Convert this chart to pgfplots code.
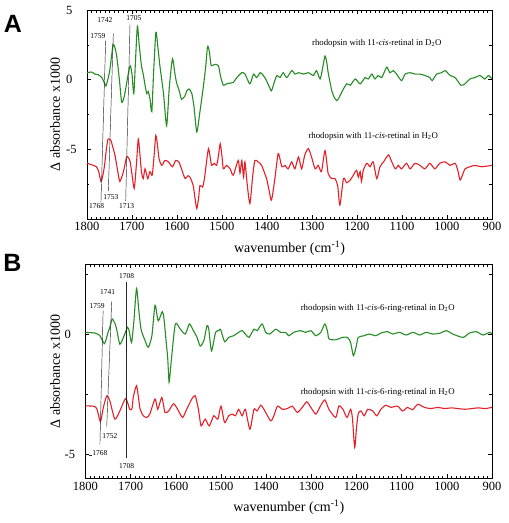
\documentclass[border=0pt]{standalone}
\usepackage{fontspec}
\setmainfont{Liberation Serif}
\newfontfamily\arialfont{Liberation Sans}
\usepackage{pgfplots}
\pgfplotsset{compat=1.18}
\definecolor{specgreen}{RGB}{38,140,36}
\definecolor{specred}{RGB}{228,32,40}
\pgfplotsset{
 spec/.style={
  scale only axis, x dir=reverse, xmin=900, xmax=1800,
  xtick={900,1000,...,1800}, minor x tick num=9,
  xticklabels={900,1000,1100,1200,1300,1400,1500,1600,1700,1800},
  tick align=inside, xtick pos=both, ytick pos=both,
  xticklabel pos=lower, yticklabel pos=left,
  major tick length=4pt, minor tick length=2.5pt,
  every tick/.style={black, line width=0.4pt},
  axis line style={line width=0.6pt},
  tick label style={font=\fontsize{12.5}{14}\selectfont},
  /pgf/number format/assume math mode=true,
  /pgf/number format/1000 sep={},
  yticklabel style={anchor=west, xshift=-21pt, inner sep=0pt},
  every axis x label/.style={at={(axis description cs:0.5,0)}, yshift=-29pt, anchor=center, font=\fontsize{14}{16}\selectfont},
  every axis plot/.append style={line width=1.1pt, smooth, tension=0.4, mark=none},
  xlabel={wavenumber (cm\textsuperscript{-1})},
  ylabel={Δ absorbance x1000},
 }
}
\newcommand{\sm}{\fontsize{7.5}{8}\selectfont}
\newcommand{\mdl}{\fontsize{8.8}{10}\selectfont}
\begin{document}
\begin{tikzpicture}[x=1pt,y=1pt]
\useasboundingbox (0,0) rectangle (509,-523);
\node[font=\arialfont\bfseries\fontsize{25}{28}\selectfont, inner sep=0] at (13,-23.5) {A};
\node[font=\arialfont\bfseries\fontsize{25}{28}\selectfont, inner sep=0] at (12.5,-262.5) {B};
\begin{axis}[spec, at={(87pt,-10pt)}, anchor=north west, width=405pt, height=209pt,
  ymin=-10, ymax=5, ytick={-5,0,5}, yticklabels={-5,0,5}, minor ytick={-7.5,-2.5,2.5},
  every axis y label/.style={at={(axis description cs:0,0.5)}, xshift=-32pt, rotate=90, anchor=center, font=\fontsize{14}{16}\selectfont}]
\addplot[specgreen] coordinates {
(1800,0.5)(1790,0.55)(1782,0.4)(1775,0.35)(1767,0.15)(1762,-0.2)(1758,-0.45)(1753,0.1)(1749,0.75)(1745,1.8)
(1742,2.55)(1738,2.3)(1734,1.7)(1728,0.0)(1723,-1.6)(1718,-1.3)(1714,-0.65)(1709,0.3)(1704,1.0)(1700,0.4)
(1696,-1.0)(1692,1.5)(1688,3.85)(1684,2.5)(1679,1.0)(1675,0.4)(1671,-0.4)(1667,-1.0)(1664,-0.85)(1660,-1.4)
(1656,-2.3)(1652,0.5)(1647,3.4)(1643,2.5)(1638,1.0)(1630,-1.0)(1623,-3.3)(1617,-0.5)(1610,1.5)(1605,0.5)
(1601,-0.2)(1595,-0.8)(1590,-1.4)(1583,-1.2)(1578,-0.8)(1573,-0.67)(1567,-1.0)(1562,-2.0)(1556,-3.75)(1549,-2.3)
(1541,-0.4)(1536,1.0)(1532,2.4)(1528,2.0)(1524,1.0)(1517,1.1)(1508,1.0)(1503,0.2)(1497,-0.4)(1490,-0.3)
(1482,-0.25)(1475,-0.2)(1467,0.15)(1456,0.5)(1449,0.4)(1438,-0.3)(1430,0.4)(1423,0.15)(1415,0.5)(1408,0.3)
(1401,-0.07)(1395,-0.5)(1390,-0.8)(1384,-0.2)(1378,0.3)(1371,0.15)(1364,0.5)(1356,0.15)(1345,0.65)(1338,0.4)
(1330,0.5)(1319,0.4)(1308,0.5)(1297,0.3)(1290,0.65)(1282,0.05)(1276,0.9)(1271,1.7)(1267,1.2)(1264,0.5)
(1256,-0.8)(1250,-1.3)(1245,-1.5)(1240,-1.3)(1234,-0.9)(1223,-0.3)(1215,-0.4)(1204,0.05)(1193,-0.3)(1182,0.15)
(1175,0.05)(1167,0.4)(1160,0.05)(1153,0.3)(1145,0.15)(1134,0.9)(1127,0.5)(1119,0.65)(1112,0.4)(1101,-0.07)
(1093,0.4)(1082,0.5)(1071,0.4)(1060,0.4)(1049,0.3)(1038,0.15)(1033,-0.07)(1023,0.4)(1012,0.5)(1004,0.65)
(993,0.3)(982,0.15)(969,-0.4)(960,-0.3)(949,0.05)(938,0.15)(927,0.3)(916,0.05)(908,0.3)(900,0.05)
};
\addplot[specred] coordinates {
(1800,-6.0)(1790,-6.1)(1779,-6.25)(1774,-6.6)(1769,-7.3)(1765,-6.9)(1761,-6.15)(1757,-5.0)(1753,-4.25)(1747,-4.35)
(1743,-4.8)(1738,-5.4)(1732,-6.5)(1727,-7.3)(1719,-6.6)(1712,-5.55)(1708,-5.6)(1704,-5.9)(1700,-6.8)(1695,-7.8)
(1690,-6.0)(1686,-4.25)(1682,-5.5)(1679,-6.6)(1675,-7.1)(1671,-6.4)(1665,-7.1)(1660,-6.6)(1655,-6.85)(1651,-5.5)
(1647,-4.0)(1643,-4.8)(1640,-5.65)(1634,-6.15)(1627,-5.8)(1619,-5.9)(1610,-6.25)(1603,-5.8)(1596,-5.9)(1590,-6.4)
(1582,-7.1)(1576,-6.9)(1571,-7.0)(1564,-7.6)(1560,-8.5)(1556,-9.25)(1552,-8.5)(1549,-7.6)(1543,-7.7)(1539,-7.1)
(1534,-5.8)(1530,-4.95)(1526,-5.6)(1523,-6.15)(1517,-6.0)(1512,-6.15)(1508,-5.5)(1504,-4.6)(1500,-5.5)(1497,-6.4)
(1490,-6.15)(1482,-6.4)(1475,-6.85)(1464,-5.8)(1460,-6.7)(1456,-5.8)(1452,-7.0)(1449,-5.9)(1444,-7.5)(1438,-8.9)
(1432,-7.0)(1427,-5.8)(1420,-5.9)(1412,-6.15)(1401,-7.1)(1395,-8.0)(1390,-8.65)(1382,-7.0)(1375,-5.3)(1367,-6.25)
(1360,-6.15)(1353,-6.4)(1345,-5.9)(1338,-6.4)(1330,-5.55)(1323,-6.4)(1316,-5.4)(1308,-4.95)(1301,-5.55)(1293,-6.4)
(1286,-6.15)(1279,-6.6)(1271,-5.1)(1264,-6.75)(1256,-7.1)(1249,-7.1)(1243,-7.6)(1238,-9.0)(1230,-7.1)(1223,-7.4)
(1215,-7.2)(1208,-6.85)(1201,-6.5)(1197,-7.0)(1193,-6.6)(1190,-7.3)(1186,-6.5)(1178,-6.0)(1171,-6.25)(1164,-5.9)
(1156,-7.1)(1149,-6.25)(1141,-5.9)(1130,-5.4)(1124,-5.8)(1115,-6.4)(1108,-6.15)(1101,-6.4)(1090,-6.0)(1082,-6.4)
(1071,-6.0)(1060,-6.15)(1049,-6.4)(1038,-6.0)(1027,-6.4)(1016,-6.0)(1004,-5.9)(993,-6.15)(982,-6.0)(976,-6.5)
(971,-7.2)(965,-6.8)(960,-6.4)(949,-6.25)(938,-6.15)(923,-6.25)(900,-6.15)
};
\draw[black!85, line width=0.45pt] (axis cs:1758.5,2.8) -- (axis cs:1769,-8.8);
\draw[black!85, line width=0.45pt] (axis cs:1741.5,3.3) -- (axis cs:1752.6,-8.0);
\draw[black!85, line width=0.45pt] (axis cs:1704.4,4.0) -- (axis cs:1714,-8.7);
\node[font=\sm, inner sep=0] at (axis cs:1776,3.1) {1759};
\node[font=\sm, inner sep=0] at (axis cs:1760,4.3) {1742};
\node[font=\sm, inner sep=0] at (axis cs:1696,4.4) {1705};
\node[font=\sm, inner sep=0] at (axis cs:1778.5,-9.1) {1768};
\node[font=\sm, inner sep=0] at (axis cs:1747,-8.4) {1753};
\node[font=\sm, inner sep=0] at (axis cs:1712,-9.1) {1713};
\node[font=\mdl] at (axis cs:1156,2.64) {rhodopsin with 11-\textit{cis}-retinal in D\textsubscript{2}O};
\node[font=\mdl] at (axis cs:1164,-4.07) {rhodopsin with 11-\textit{cis}-retinal in H\textsubscript{2}O};
\end{axis}
\begin{axis}[spec, at={(85.5pt,-264.3pt)}, anchor=north west, width=406.5pt, height=214pt,
  ymin=-6, ymax=2.9, ytick={-5,0}, yticklabels={-5,0}, minor ytick={-2.5,2.5},
  every axis y label/.style={at={(axis description cs:0,0.5)}, xshift=-30.5pt, rotate=90, anchor=center, font=\fontsize{14}{16}\selectfont}]
\addplot[specgreen] coordinates {
(1800,0.07)(1779,0.04)(1768,-0.07)(1758,-0.4)(1750,0.07)(1745,0.35)(1741,0.63)(1735,0.45)(1731,0.2)(1724,-0.42)
(1716,-0.14)(1707,0.28)(1703,0.1)(1698,-0.35)(1693,0.5)(1687,1.9)(1682,1.0)(1677,0.2)(1668,-0.28)(1661,-0.55)
(1653,-0.07)(1646,1.2)(1639,0.55)(1630,0.93)(1626,0.6)(1622,-0.2)(1618,-1.0)(1615,-2.0)(1612,-1.5)(1609,-0.9)
(1601,0.42)(1590,0.2)(1579,0.0)(1570,0.42)(1561,0.14)(1553,-0.14)(1546,-0.5)(1538,-0.28)(1531,0.35)(1527,0.2)
(1521,-0.7)(1512,0.07)(1505,0.14)(1501,0.2)(1492,-0.32)(1483,-0.14)(1472,-0.07)(1461,0.07)(1453,0.14)(1446,0.0)
(1438,-0.14)(1427,0.2)(1420,0.14)(1409,0.42)(1401,0.07)(1392,0.0)(1379,0.2)(1368,0.07)(1357,0.07)(1350,-0.07)
(1339,0.07)(1324,0.14)(1313,0.07)(1301,0.14)(1290,-0.07)(1279,0.07)(1270,0.42)(1264,0.1)(1261,-0.2)(1246,-0.24)
(1231,-0.14)(1220,-0.14)(1213,-0.35)(1207,-0.9)(1201,-0.55)(1196,-0.14)(1183,-0.07)(1172,0.0)(1157,-0.07)(1146,0.04)
(1131,0.1)(1120,0.0)(1105,0.07)(1090,-0.04)(1075,0.07)(1060,-0.04)(1046,0.07)(1031,0.0)(1016,0.03)(1001,0.14)
(987,0.0)(964,-0.14)(950,0.04)(935,0.1)(920,-0.04)(905,0.07)(900,0.0)
};
\addplot[specred] coordinates {
(1800,-2.99)(1783,-3.0)(1775,-3.1)(1767,-3.65)(1761,-3.1)(1753,-2.57)(1746,-2.78)(1735,-3.54)(1724,-3.2)(1711,-2.68)
(1702,-3.13)(1697,-3.1)(1694,-2.6)(1687,-2.15)(1683,-2.6)(1679,-3.13)(1672,-3.4)(1664,-3.47)(1657,-3.3)(1646,-2.7)
(1640,-3.13)(1631,-2.64)(1624,-3.26)(1616,-3.2)(1605,-2.9)(1596,-3.13)(1585,-3.47)(1576,-3.13)(1564,-2.68)(1557,-2.57)
(1550,-3.13)(1544,-3.82)(1535,-3.54)(1526,-3.82)(1516,-3.4)(1507,-3.54)(1500,-3.0)(1492,-3.68)(1483,-3.4)(1475,-3.33)
(1468,-3.4)(1461,-3.13)(1453,-3.4)(1446,-3.13)(1436,-3.96)(1427,-3.13)(1420,-3.2)(1412,-2.96)(1405,-3.13)(1390,-3.61)
(1383,-3.4)(1375,-3.0)(1364,-3.13)(1353,-3.1)(1342,-3.0)(1331,-3.26)(1320,-3.05)(1310,-2.82)(1301,-3.05)(1290,-3.33)
(1280,-3.0)(1270,-2.74)(1261,-3.13)(1246,-3.47)(1239,-2.99)(1230,-3.13)(1221,-3.47)(1213,-3.13)(1209,-3.5)(1204,-4.72)
(1200,-3.9)(1196,-3.3)(1190,-3.2)(1183,-3.4)(1175,-3.13)(1164,-3.2)(1155,-3.4)(1146,-3.13)(1135,-2.96)(1124,-3.05)
(1109,-3.0)(1098,-3.2)(1087,-3.05)(1076,-3.15)(1064,-2.92)(1050,-3.05)(1035,-3.1)(1020,-3.05)(1005,-3.1)(990,-3.07)
(975,-3.1)(960,-3.13)(945,-3.1)(930,-3.07)(915,-3.1)(900,-3.05)
};
\draw[black!85, line width=0.45pt] (axis cs:1761,0.97) -- (axis cs:1768,-4.58);
\draw[black!85, line width=0.45pt] (axis cs:1742,1.35) -- (axis cs:1753,-3.85);
\draw[black!85, line width=0.45pt] (axis cs:1709,2.15) -- (axis cs:1709,-5.15);
\draw[black!85, line width=0.45pt] (axis cs:1793,-5.05) -- (axis cs:1786,-5.05);
\node[font=\sm, inner sep=0] at (axis cs:1709,2.4) {1708};
\node[font=\sm, inner sep=0] at (axis cs:1751,1.74) {1741};
\node[font=\sm, inner sep=0] at (axis cs:1774,1.18) {1759};
\node[font=\sm, inner sep=0] at (axis cs:1746,-4.24) {1752};
\node[font=\sm, inner sep=0] at (axis cs:1768,-4.97) {1768};
\node[font=\sm, inner sep=0] at (axis cs:1709,-5.5) {1708};
\node[font=\mdl] at (axis cs:1153,1.08) {rhodopsin with 11-\textit{cis}-6-ring-retinal in D\textsubscript{2}O};
\node[font=\mdl] at (axis cs:1153,-2.42) {rhodopsin with 11-\textit{cis}-6-ring-retinal in H\textsubscript{2}O};
\end{axis}
\end{tikzpicture}
\end{document}
